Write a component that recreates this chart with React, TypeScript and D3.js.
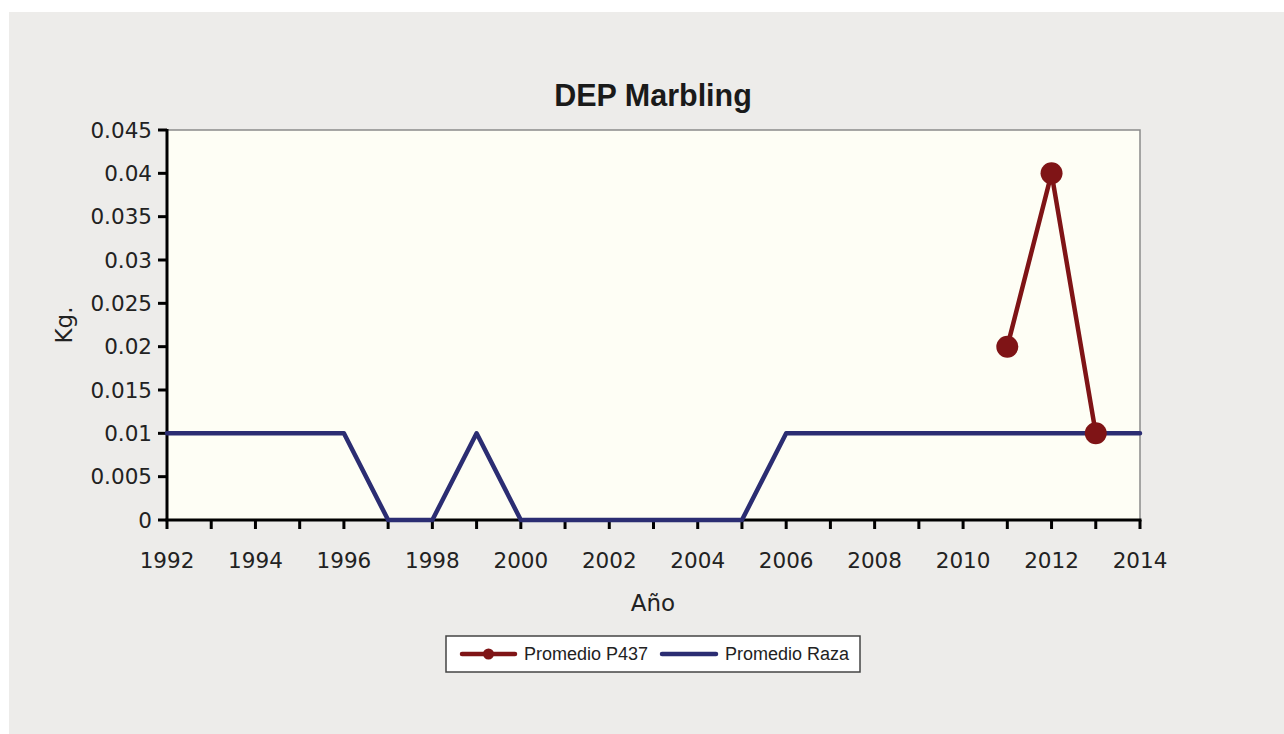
import React from "react";
import * as d3 from "d3";

const years = d3.range(1992, 2015);
const razaValues = [0.01, 0.01, 0.01, 0.01, 0.01, 0, 0, 0.01, 0, 0, 0, 0, 0, 0, 0.01, 0.01, 0.01, 0.01, 0.01, 0.01, 0.01, 0.01, 0.01];
const p437Years = [2011, 2012, 2013];
const p437Values = [0.02, 0.04, 0.01];
const yTicks = [0, 0.005, 0.01, 0.015, 0.02, 0.025, 0.03, 0.035, 0.04, 0.045];
const xLabelYears = d3.range(1992, 2015, 2);

const RED = "#7f1416";
const BLUE = "#2b2d72";
const FONT = "'Liberation Sans', Arial, sans-serif";
const TICKFONT = "'DejaVu Sans', sans-serif";

export default function App() {
  const W = 1284, H = 734;
  const left = 167, right = 1140, top = 130, bottom = 520;
  const x = d3.scaleLinear().domain([1992, 2014]).range([left, right]);
  const y = d3.scaleLinear().domain([0, 0.045]).range([bottom, top]);
  const line = d3.line<[number, number]>().x(d => x(d[0])).y(d => y(d[1]));
  const razaPts: [number, number][] = years.map((yr, i) => [yr, razaValues[i]]);
  const p437Pts: [number, number][] = p437Years.map((yr, i) => [yr, p437Values[i]]);
  const fmt = (v: number) => (v === 0 ? "0" : String(+v.toFixed(3)));

  return (
    <svg width={W} height={H} style={{ position: "absolute", left: 0, top: 0 }} fontFamily={FONT}>
      <rect x={0} y={0} width={W} height={H} fill="#ffffff" />
      <rect x={9} y={12} width={W - 9} height={H - 12} fill="#edecea" />
      <rect x={left} y={top} width={right - left} height={bottom - top} fill="#fefef5" stroke="#8a8a8a" strokeWidth={1.5} />
      <text x={653} y={106} textAnchor="middle" fontSize={30.5} fontWeight="bold" fill="#1a1a1a">DEP Marbling</text>
      {/* y axis */}
      <line x1={left} x2={left} y1={top - 1} y2={bottom + 1} stroke="#000" strokeWidth={3} />
      {yTicks.map(t => (
        <g key={t}>
          <line x1={left - 9} x2={left} y1={y(t)} y2={y(t)} stroke="#000" strokeWidth={3} />
          <text x={left - 15} y={y(t)} dy="0.36em" textAnchor="end" fontSize={21.5} fill="#222" fontFamily={TICKFONT}>{fmt(t)}</text>
        </g>
      ))}
      {/* x axis */}
      <line x1={left - 1.5} x2={right + 1.5} y1={bottom} y2={bottom} stroke="#000" strokeWidth={3} />
      {years.map(yr => (
        <line key={yr} x1={x(yr)} x2={x(yr)} y1={bottom} y2={bottom + 9} stroke="#000" strokeWidth={3} />
      ))}
      {xLabelYears.map(yr => (
        <text key={yr} x={x(yr)} y={568} textAnchor="middle" fontSize={21.5} fill="#222" fontFamily={TICKFONT}>{yr}</text>
      ))}
      <text x={653} y={611} textAnchor="middle" fontSize={23} fill="#222" fontFamily={TICKFONT}>Año</text>
      <text transform={`translate(72,325) rotate(-90)`} textAnchor="middle" fontSize={23} fill="#222" fontFamily={TICKFONT}>Kg.</text>
      {/* series */}
      <path d={line(razaPts) || ""} fill="none" stroke={BLUE} strokeWidth={4.5} strokeLinejoin="round" strokeLinecap="round" />
      <path d={line(p437Pts) || ""} fill="none" stroke={RED} strokeWidth={4.5} strokeLinejoin="round" />
      {p437Pts.map((p, i) => (
        <circle key={i} cx={x(p[0])} cy={y(p[1])} r={11} fill={RED} />
      ))}
      {/* legend */}
      <rect x={446} y={636} width={414} height={36} fill="#ffffff" stroke="#444" strokeWidth={1.5} />
      <line x1={462} x2={515} y1={654} y2={654} stroke={RED} strokeWidth={4.5} strokeLinecap="round" />
      <circle cx={488.5} cy={654} r={5.5} fill={RED} />
      <text x={524} y={654} dy="0.35em" fontSize={18} fill="#222">Promedio P437</text>
      <line x1={662} x2={716} y1={654} y2={654} stroke={BLUE} strokeWidth={4.5} strokeLinecap="round" />
      <text x={725} y={654} dy="0.35em" fontSize={18} fill="#222">Promedio Raza</text>
    </svg>
  );
}
